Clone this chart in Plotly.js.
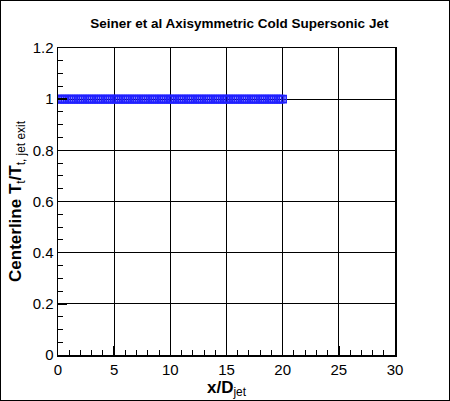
<!DOCTYPE html>
<html>
<head>
<meta charset="utf-8">
<script src="https://cdn.plot.ly/plotly-3.0.1.min.js"></script>
<style>
  html, body { margin: 0; padding: 0; background: #fff; }
  #chart { width: 448px; height: 399px; border: 1px solid #000; }
</style>
</head>
<body>
<div id="chart"></div>
<script>
// centerline total temperature ratio along the jet axis
const xD = [
    0.0, 0.2, 0.4, 0.6, 0.8, 1.0, 1.2, 1.4, 1.6, 1.8,
    2.0, 2.2, 2.4, 2.6, 2.8, 3.0, 3.2, 3.4, 3.6, 3.8,
    4.0, 4.2, 4.4, 4.6, 4.8, 5.0, 5.2, 5.4, 5.6, 5.8,
    6.0, 6.2, 6.4, 6.6, 6.8, 7.0, 7.2, 7.4, 7.6, 7.8,
    8.0, 8.2, 8.4, 8.6, 8.8, 9.0, 9.2, 9.4, 9.6, 9.8,
    10.0, 10.2, 10.4, 10.6, 10.8, 11.0, 11.2, 11.4, 11.6, 11.8,
    12.0, 12.2, 12.4, 12.6, 12.8, 13.0, 13.2, 13.4, 13.6, 13.8,
    14.0, 14.2, 14.4, 14.6, 14.8, 15.0, 15.2, 15.4, 15.6, 15.8,
    16.0, 16.2, 16.4, 16.6, 16.8, 17.0, 17.2, 17.4, 17.6, 17.8,
    18.0, 18.2, 18.4, 18.6, 18.8, 19.0, 19.2, 19.4, 19.6, 19.8,
    20.0
];
const ttRatio = [
    1, 1, 1, 1, 1, 1, 1, 1, 1, 1,
    1, 1, 1, 1, 1, 1, 1, 1, 1, 1,
    1, 1, 1, 1, 1, 1, 1, 1, 1, 1,
    1, 1, 1, 1, 1, 1, 1, 1, 1, 1,
    1, 1, 1, 1, 1, 1, 1, 1, 1, 1,
    1, 1, 1, 1, 1, 1, 1, 1, 1, 1,
    1, 1, 1, 1, 1, 1, 1, 1, 1, 1,
    1, 1, 1, 1, 1, 1, 1, 1, 1, 1,
    1, 1, 1, 1, 1, 1, 1, 1, 1, 1,
    1, 1, 1, 1, 1, 1, 1, 1, 1, 1,
    1
];
const xTicks = [0, 5, 10, 15, 20, 25, 30];
const yTicks = [0, 0.2, 0.4, 0.6, 0.8, 1, 1.2];
const yTickText = ['0', '0.2', '0.4', '0.6', '0.8', '1', '1.2'];

const data = [
    {
        x: xD,
        y: ttRatio,
        type: 'scatter',
        mode: 'markers',
        marker: {
            symbol: 'square-open',
            size: 7,
            color: '#2020ff',
            line: {width: 1.6}
        },
        hoverinfo: 'skip'
    }
];

const axisCommon = {
    showline: true,
    linecolor: '#000',
    linewidth: 1.5,
    mirror: true,
    showgrid: true,
    gridcolor: '#000',
    gridwidth: 1,
    zeroline: false,
    ticks: 'inside',
    ticklen: 9,
    tickwidth: 1.5,
    tickcolor: '#000',
    tickfont: {family: 'Liberation Sans, Arial, sans-serif', size: 15, color: '#000'},
    minor: {ticks: 'inside', ticklen: 5, tickwidth: 1, tickcolor: '#000', showgrid: false}
};

const layout = {
    width: 448,
    height: 399,
    paper_bgcolor: '#fff',
    plot_bgcolor: '#fff',
    showlegend: false,
    margin: {l: 57, r: 54, t: 47, b: 45, pad: 0},
    title: {
        text: '<b>Seiner et al Axisymmetric Cold Supersonic Jet</b>',
        font: {family: 'Liberation Sans, Arial, sans-serif', size: 13.5, color: '#000'},
        x: 0.532,
        xanchor: 'center',
        y: 0.943,
        yanchor: 'middle'
    },
    xaxis: Object.assign({}, axisCommon, {
        range: [0, 30],
        tickvals: xTicks,
        ticktext: xTicks.map(String),
        minor: Object.assign({}, axisCommon.minor, {dtick: 1, tick0: 0}),
        title: {
            text: '<b>x/D</b><sub>jet</sub>',
            font: {family: 'Liberation Sans, Arial, sans-serif', size: 17, color: '#000'},
            standoff: 4
        }
    }),
    yaxis: Object.assign({}, axisCommon, {
        range: [0, 1.2],
        tickvals: yTicks,
        ticktext: yTickText,
        minor: Object.assign({}, axisCommon.minor, {dtick: 0.05, tick0: 0}),
        title: {
            text: '<b>Centerline T</b><sub>t</sub><b>/T</b><sub>t, jet exit</sub>',
            font: {family: 'Liberation Sans, Arial, sans-serif', size: 17, color: '#000'},
            standoff: 6
        }
    })
};

Plotly.newPlot('chart', data, layout, {staticPlot: true, displayModeBar: false});
</script>
</body>
</html>
